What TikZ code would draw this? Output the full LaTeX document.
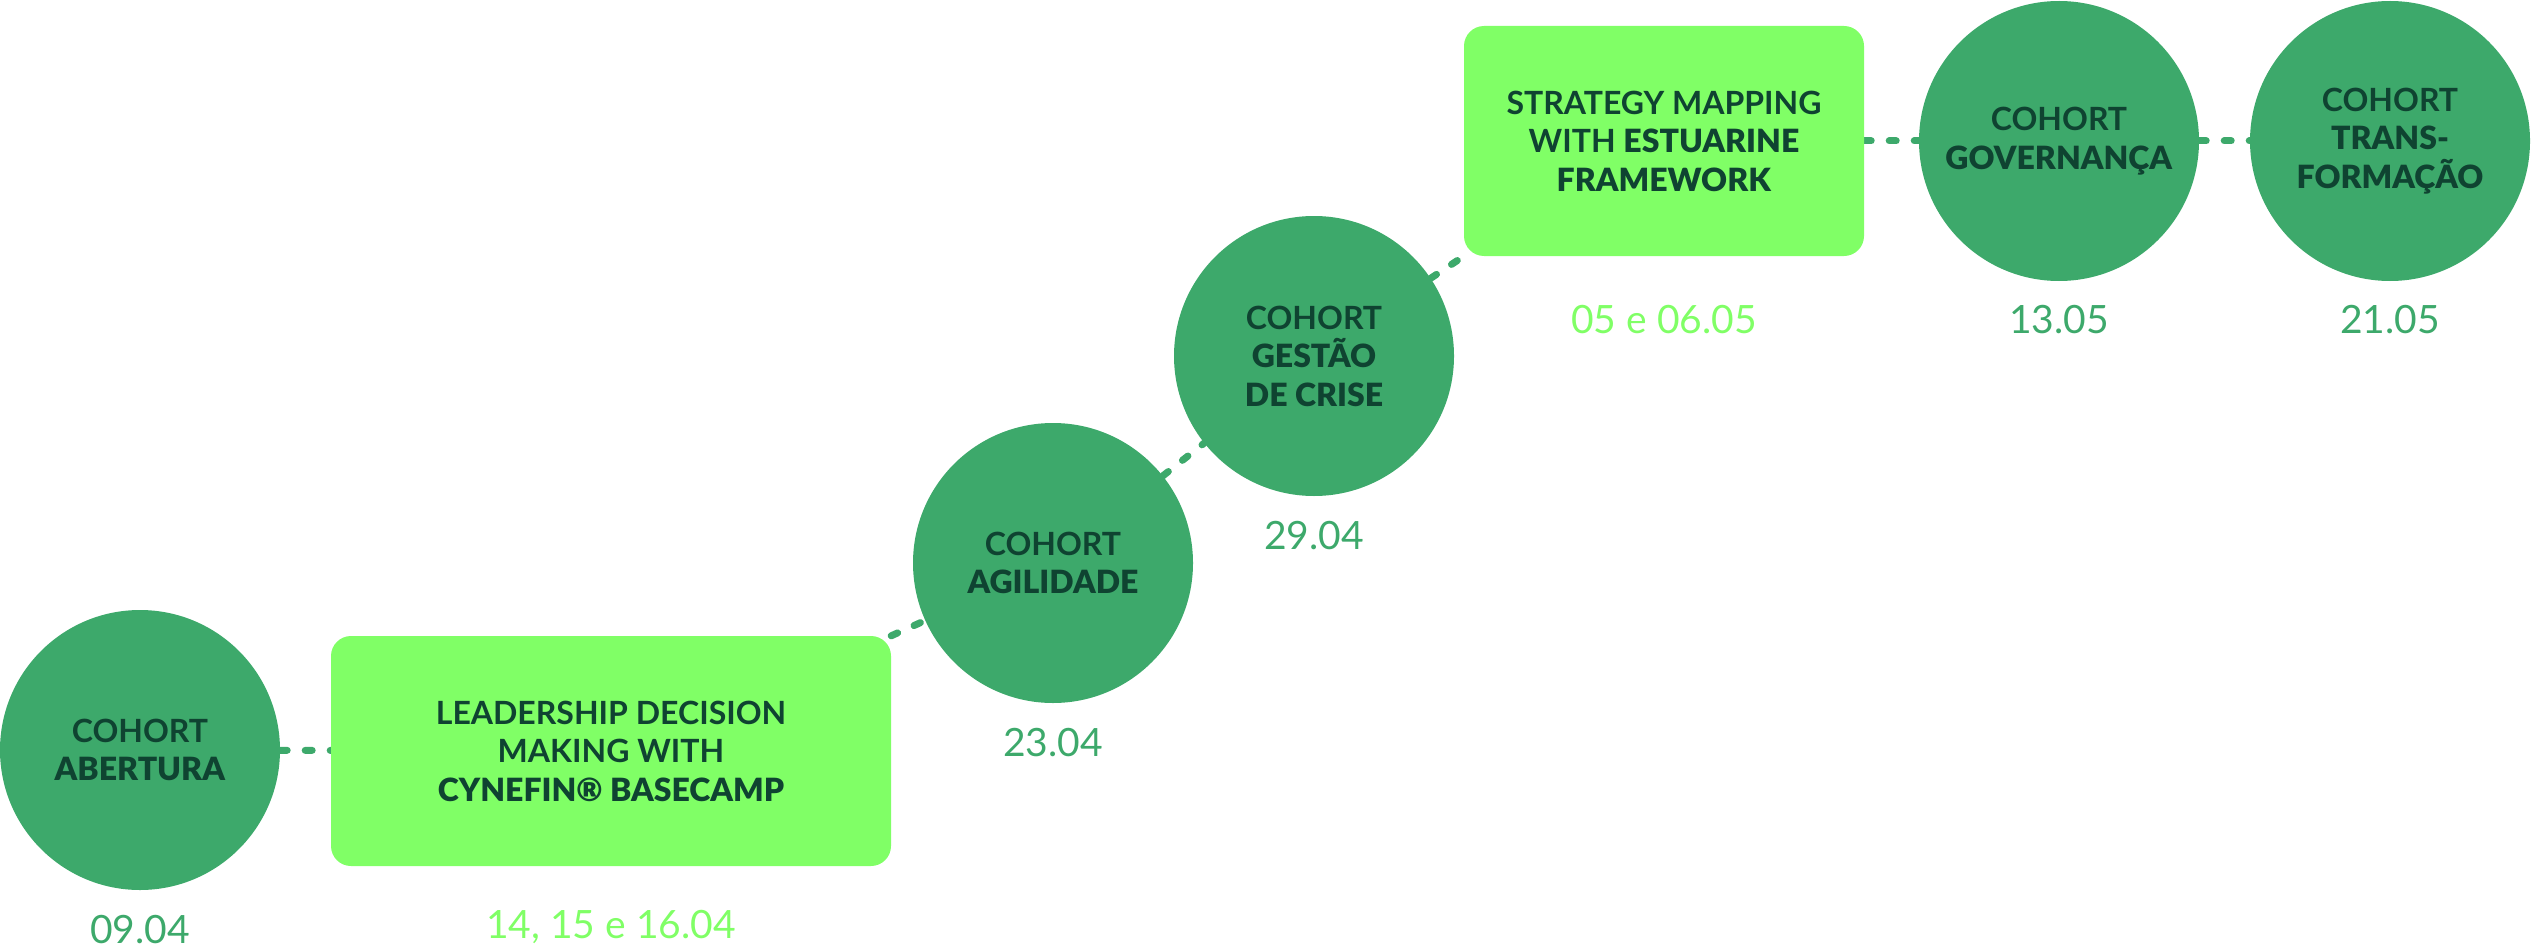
\documentclass[tikz,border=0pt]{standalone}
\usepackage{fontspec}
\setmainfont{Lato Bold}[BoldFont={Lato Black}]
\newfontfamily\datefont{Lato}
\usetikzlibrary{backgrounds}
\definecolor{cgreen}{HTML}{3DA96B}
\definecolor{lgreen}{HTML}{80FF66}
\definecolor{dtext}{HTML}{0F4331}
\tikzset{
  cohort/.style={circle, fill=cgreen, minimum size=280pt, inner sep=0pt,
    text=dtext, align=center, font=\fontsize{32}{38.5}\selectfont},
  course/.style={rectangle, rounded corners=20pt, fill=lgreen, inner sep=0pt,
    minimum height=230pt, text=dtext, align=center, font=\fontsize{32}{38.5}\selectfont},
  datec/.style={anchor=base, text=cgreen, font=\datefont\fontsize{39}{44}\selectfont},
  datel/.style={anchor=base, text=lgreen, font=\datefont\fontsize{39}{44}\selectfont},
  conn/.style={draw=cgreen, line width=7pt, line cap=round, dash pattern=on 7pt off 18pt}
}
\begin{document}
\begin{tikzpicture}[x=1pt, y=-1pt]
\useasboundingbox (0,0) rectangle (2531,952);
\node[cohort] (c1) at (140,750) {COHORT\\\textbf{ABERTURA}};
\node[course, minimum width=560pt] (b1) at (611,751) {LEADERSHIP DECISION\\MAKING WITH\\\textbf{CYNEFIN® BASECAMP}};
\node[cohort] (c2) at (1053,563) {COHORT\\\textbf{AGILIDADE}};
\node[cohort] (c3) at (1314,356) {COHORT\\\textbf{GESTÃO}\\\textbf{DE CRISE}};
\node[course, minimum width=400pt] (b2) at (1664,141) {STRATEGY MAPPING\\WITH \textbf{ESTUARINE}\\\textbf{FRAMEWORK}};
\node[cohort] (c4) at (2059,141) {COHORT\\\textbf{GOVERNANÇA}};
\node[cohort] (c5) at (2390,141) {COHORT\\\textbf{TRANS-}\\\textbf{FORMAÇÃO}};
\node[datec] (d1) at (140,943) {09.04};
\node[datel] (d2) at (611,938) {14, 15 e 16.04};
\node[datec] (d3) at (1053,756) {23.04};
\node[datec] (d4) at (1314,549) {29.04};
\node[datel] (d5) at (1664,333) {05 e 06.05};
\node[datec] (d6) at (2059,333) {13.05};
\node[datec] (d7) at (2390,333) {21.05};
\begin{pgfonlayer}{background}
\draw[conn] (c1) -- (b1);
\draw[conn] (b1.north east) -- (c2);
\draw[conn] (c2) -- (c3);
\draw[conn] (c3) -- (b2.south west);
\draw[conn] (b2) -- (c4);
\draw[conn] (c4) -- (c5);
\end{pgfonlayer}
\end{tikzpicture}
\end{document}
